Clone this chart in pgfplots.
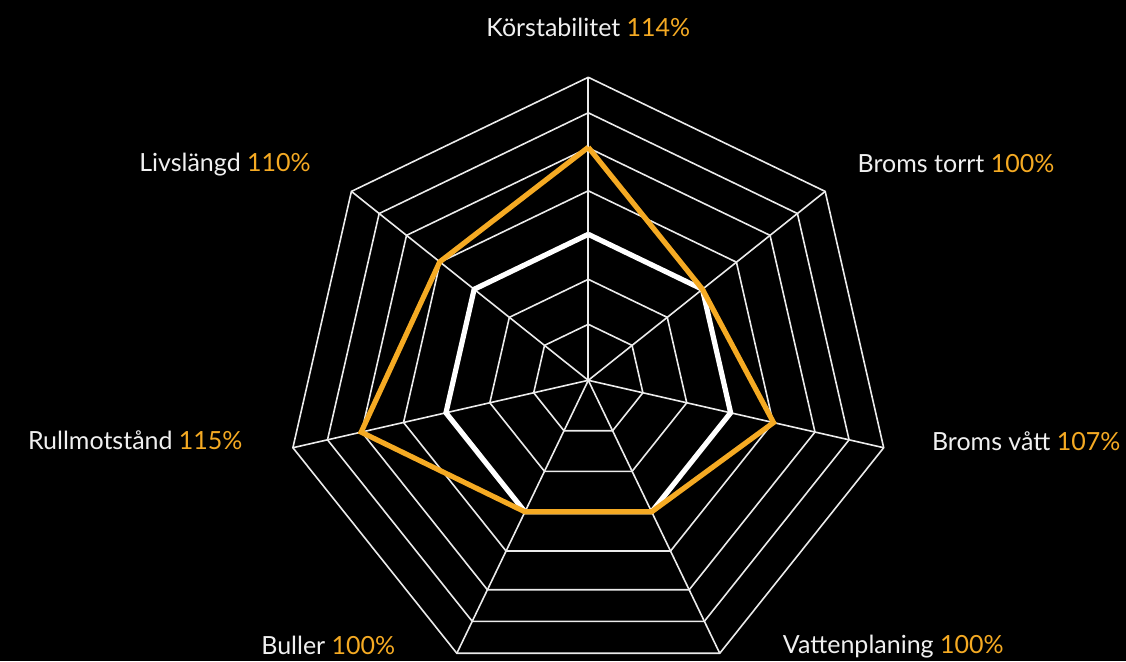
\documentclass[border=0pt]{standalone}
\usepackage{pgfplots}
\pgfplotsset{compat=1.18}
\usepackage{fontspec}
\setmainfont{Lato}
\definecolor{orng}{RGB}{245,170,35}
\definecolor{txt}{RGB}{240,240,240}
\definecolor{gridc}{RGB}{235,235,235}
\begin{document}
\begin{tikzpicture}
\fill[black] (-294.15pt,-140.35pt) rectangle (268.85pt,190.15pt);
\useasboundingbox (-294.15pt,-140.35pt) rectangle (268.85pt,190.15pt);
\begin{axis}[anchor=origin, at={(0,0)}, x=0.5pt, y=0.5pt, hide axis,
  xmin=-588.3, xmax=537.7, ymin=-280.7, ymax=380.3, clip=false]
% rings
\pgfplotsinvokeforeach{56,101,146,189.5,232.5,267.5,303}{
\addplot[gridc, line width=0.8pt, line join=miter, data cs=polar] coordinates {(90,#1) (38.571,#1) (-12.857,#1) (-64.286,#1) (-115.714,#1) (-167.143,#1) (141.429,#1) (90,#1)};
}
% spokes
\pgfplotsinvokeforeach{90,38.571,-12.857,-64.286,-115.714,-167.143,141.429}{
\addplot[gridc, line width=0.8pt, data cs=polar] coordinates {(#1,0) (#1,303)};
}
% baseline 100%
\addplot[white, line width=2.6pt, line join=miter, data cs=polar] coordinates {(90,146) (38.571,146) (-12.857,146) (-64.286,146) (-115.714,146) (-167.143,146) (141.429,146) (90,146)};
% tyre
\addplot[orng, line width=2.6pt, line join=miter, data cs=polar] coordinates {(90,233) (38.571,146) (-12.857,190) (-64.286,146) (-115.714,146) (-167.143,233) (141.429,190) (90,233)};
\tikzset{lbl/.style={anchor=base, text=txt, font=\fontsize{12.5}{15}\selectfont, inner sep=0pt}}
\node[lbl] at (axis cs:0,343.6) {Körstabilitet \textcolor{orng}{114\%}};
\node[lbl] at (axis cs:-363.3,208.6) {Livslängd \textcolor{orng}{110\%}};
\node[lbl] at (axis cs:367.7,208) {Broms torrt \textcolor{orng}{100\%}};
\node[lbl] at (axis cs:-453,-69) {Rullmotstånd \textcolor{orng}{115\%}};
\node[lbl] at (axis cs:437.9,-69.7) {Broms vått \textcolor{orng}{107\%}};
\node[lbl] at (axis cs:-260,-273.7) {Buller \textcolor{orng}{100\%}};
\node[lbl] at (axis cs:305,-273) {Vattenplaning \textcolor{orng}{100\%}};
\end{axis}
\end{tikzpicture}
\end{document}
